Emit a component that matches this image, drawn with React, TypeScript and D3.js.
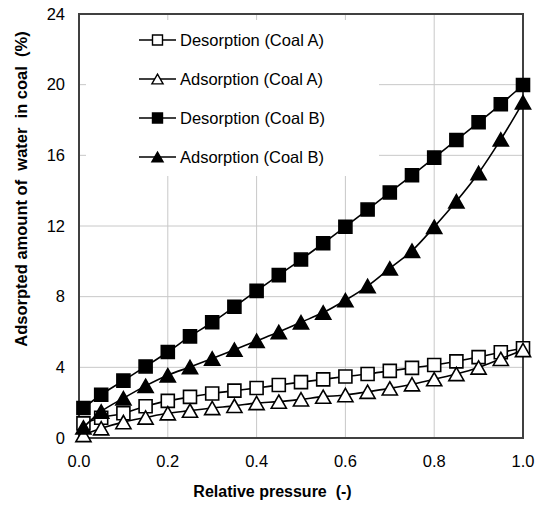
import React from "react";
import * as d3 from "d3";

const pressure = [0.01, 0.05, 0.1, 0.15, 0.2, 0.25, 0.3, 0.35, 0.4, 0.45, 0.5, 0.55, 0.6, 0.65, 0.7, 0.75, 0.8, 0.85, 0.9, 0.95, 1.0];
const desorptionA = [0.83, 1.15, 1.4, 1.8, 2.1, 2.33, 2.52, 2.68, 2.83, 3.0, 3.16, 3.32, 3.48, 3.62, 3.8, 3.97, 4.13, 4.34, 4.58, 4.85, 5.08];
const adsorptionA = [0.17, 0.55, 0.9, 1.16, 1.4, 1.55, 1.7, 1.82, 1.98, 2.06, 2.19, 2.34, 2.43, 2.62, 2.81, 3.04, 3.33, 3.62, 3.99, 4.48, 4.98];
const desorptionB = [1.7, 2.45, 3.25, 4.05, 4.87, 5.75, 6.55, 7.43, 8.33, 9.22, 10.1, 11.02, 11.96, 12.93, 13.9, 14.87, 15.87, 16.87, 17.87, 18.89, 19.98];
const adsorptionB = [0.6, 1.5, 2.25, 2.95, 3.55, 4.02, 4.5, 5.0, 5.5, 6.0, 6.55, 7.1, 7.8, 8.6, 9.6, 10.6, 11.95, 13.4, 15.0, 16.9, 19.0];

const seriesNames = ["Desorption (Coal A)", "Adsorption (Coal A)", "Desorption (Coal B)", "Adsorption (Coal B)"];
const seriesShapes = ["square", "triangle", "square", "triangle"];
const seriesFilled = [false, false, true, true];
const seriesValues = [desorptionA, adsorptionA, desorptionB, adsorptionB];

const xTicks = [0, 0.2, 0.4, 0.6, 0.8, 1.0];
const yTicks = [0, 4, 8, 12, 16, 20, 24];
const xTitle = "Relative pressure  (-)";
const yTitle = "Adsorpted amount of  water  in coal  (%)";

const FONT = "'Liberation Sans', Arial, Helvetica, sans-serif";

function markerPath(shape: string, s: number) {
  if (shape === "square") {
    const h = s / 2;
    return `M${-h},${-h}H${h}V${h}H${-h}Z`;
  }
  const w = s * 1.12 / 2;
  const h = s * 0.98 / 2;
  return `M0,${-h}L${w},${h}L${-w},${h}Z`;
}

export default function App() {
  const W = 541;
  const H = 505;
  const left = 79, right = 523, top = 14, bottom = 438;
  const x = d3.scaleLinear().domain([0, 1]).range([left, right]);
  const y = d3.scaleLinear().domain([0, 24]).range([bottom, top]);

  const line = d3
    .line<number>()
    .x((_, i) => x(pressure[i]))
    .y((d) => y(d))
    .curve(d3.curveCatmullRom.alpha(0.5));

  const legendRows = [40, 79, 118, 157];

  return (
    <svg
      width={W}
      height={H}
      style={{ position: "absolute", left: 0, top: 0, background: "#fff" }}
      fontFamily={FONT}
    >
      <rect x={0} y={0} width={W} height={H} fill="#fff" />
      {/* gridlines */}
      {yTicks.map((t) => (
        <line key={"gy" + t} x1={left} x2={right} y1={y(t)} y2={y(t)} stroke="#c8c8c8" strokeWidth={1} />
      ))}
      {xTicks.map((t) => (
        <line key={"gx" + t} x1={x(t)} x2={x(t)} y1={top} y2={bottom} stroke="#c8c8c8" strokeWidth={1} />
      ))}
      {/* legend background */}
      <rect x={86} y={20} width={293} height={156} fill="#fff" />
      {/* plot border */}
      <rect x={left} y={top} width={right - left} height={bottom - top} fill="none" stroke="#404040" strokeWidth={2} />

      {/* series */}
      {seriesValues.map((vals, si) => (
        <g key={"s" + si}>
          <path d={line(vals) || ""} fill="none" stroke="#000" strokeWidth={1.6} />
          {vals.map((v, i) => (
            <path
              key={i}
              d={markerPath(seriesShapes[si], seriesShapes[si] === "square" ? 13 : 13.5)}
              transform={`translate(${x(pressure[i])},${y(v)})`}
              fill={seriesFilled[si] ? "#000" : "#fff"}
              stroke="#000"
              strokeWidth={1.6}
            />
          ))}
        </g>
      ))}

      {/* legend */}
      {seriesNames.map((name, si) => (
        <g key={"l" + si}>
          <line x1={139} x2={176} y1={legendRows[si]} y2={legendRows[si]} stroke="#000" strokeWidth={1.5} />
          <path
            d={markerPath(seriesShapes[si], 10)}
            transform={`translate(157.5,${legendRows[si]})`}
            fill={seriesFilled[si] ? "#000" : "#fff"}
            stroke="#000"
            strokeWidth={1.4}
          />
          <text x={180} y={legendRows[si]} dy="0.35em" fontSize={16.5} fill="#000">
            {name}
          </text>
        </g>
      ))}

      {/* y tick labels */}
      {yTicks.map((t) => (
        <text key={"yl" + t} x={65} y={y(t)} dy="0.35em" textAnchor="end" fontSize={16.5} fill="#000">
          {t}
        </text>
      ))}
      {/* x tick labels */}
      {xTicks.map((t) => (
        <text key={"xl" + t} x={x(t)} y={467} textAnchor="middle" fontSize={16.5} fill="#000">
          {t.toFixed(1)}
        </text>
      ))}
      {/* axis titles */}
      <text x={272.5} y={497} textAnchor="middle" fontSize={16} fontWeight="bold" fill="#000" style={{ whiteSpace: "pre" }}>
        {xTitle}
      </text>
      <text
        transform={`translate(27,189) rotate(-90)`}
        textAnchor="middle"
        fontSize={16.5}
        fontWeight="bold"
        fill="#000"
        style={{ whiteSpace: "pre" }}
      >
        {yTitle}
      </text>
    </svg>
  );
}
